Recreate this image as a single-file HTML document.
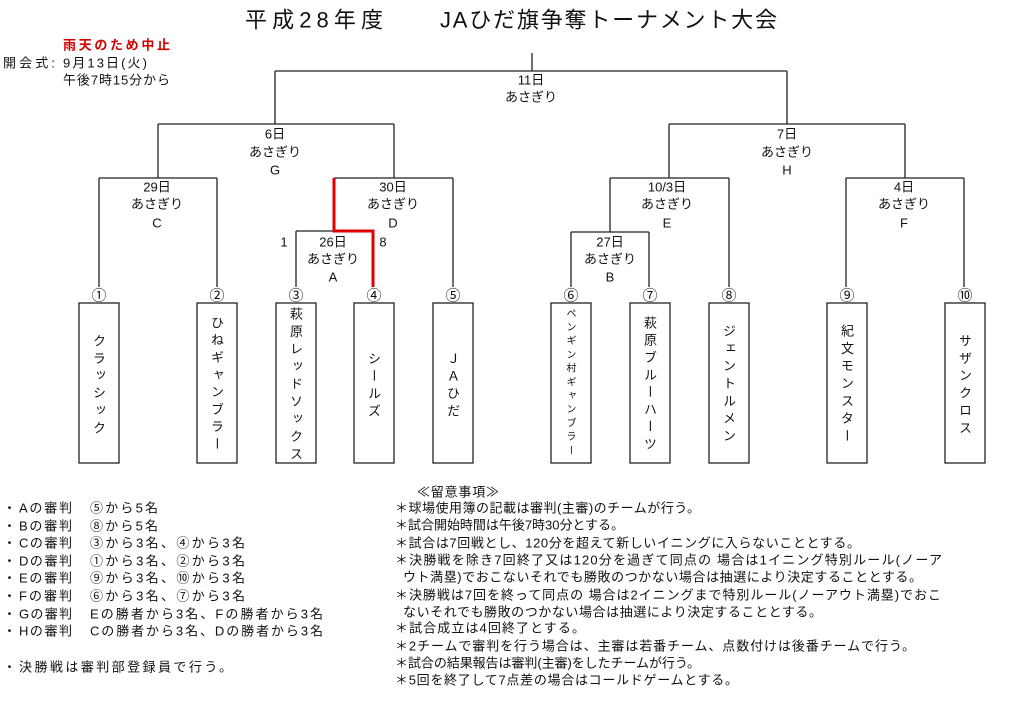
<!DOCTYPE html>
<html><head><meta charset="utf-8">
<style>
html,body{margin:0;padding:0;background:#fff;}
body{width:1024px;height:711px;position:relative;overflow:hidden;font-family:"Liberation Sans","Noto Sans CJK JP",sans-serif;color:#111;}
svg{position:absolute;left:0;top:0;}
.v{position:absolute;writing-mode:vertical-rl;width:20px;line-height:20px;font-family:"Noto Sans CJK JP","Liberation Sans",sans-serif;color:#111;white-space:nowrap;}
</style></head><body>
<svg width="1024" height="711" viewBox="0 0 1024 711" xmlns="http://www.w3.org/2000/svg" font-family="Liberation Sans, Noto Sans CJK JP, sans-serif" fill="#111">
<!-- title -->
<text x="245" y="20" font-size="22" dominant-baseline="central" textLength="138" lengthAdjust="spacing">平成28年度</text>
<text x="440" y="20" font-size="22" dominant-baseline="central" textLength="337" lengthAdjust="spacing">JAひだ旗争奪トーナメント大会</text>
<!-- top left -->
<text x="63" y="45" font-size="13" font-weight="bold" fill="#d40000" dominant-baseline="central" textLength="107" lengthAdjust="spacing">雨天のため中止</text>
<text x="3" y="63" font-size="13" dominant-baseline="central" textLength="52" lengthAdjust="spacing">開会式:</text>
<text x="63" y="63" font-size="13" dominant-baseline="central" textLength="84" lengthAdjust="spacing">9月13日(火)</text>
<text x="63" y="80" font-size="13" dominant-baseline="central" textLength="107" lengthAdjust="spacing">午後7時15分から</text>

<!-- bracket lines -->
<g stroke="#222" stroke-width="1.3" fill="none">
<path d="M532 53V71M275 71H787M275 71V124M787 71V124"/>
<path d="M158 124H394M158 124V178M394 124V178"/>
<path d="M99 178H217M99 178V287M217 178V287"/>
<path d="M334 178H453M453 178V287"/>
<path d="M296 231H334M296 231V287"/>
<path d="M669 124H905M669 124V178M905 124V178"/>
<path d="M610 178H729M729 178V287M610 178V232"/>
<path d="M571 232H649M571 232V287M649 232V287"/>
<path d="M846 178H964M846 178V287M964 178V287"/>
</g>
<path d="M334 178V231H373V287" stroke="#e00000" stroke-width="3" fill="none"/>

<!-- boxes -->
<g stroke="#222" stroke-width="1.3" fill="none">
<rect x="79" y="303" width="40" height="160"/>
<rect x="197" y="303" width="40" height="160"/>
<rect x="276" y="303" width="40" height="160"/>
<rect x="354" y="303" width="40" height="160"/>
<rect x="433" y="303" width="40" height="160"/>
<rect x="551" y="303" width="40" height="160"/>
<rect x="630" y="303" width="40" height="160"/>
<rect x="709" y="303" width="40" height="160"/>
<rect x="827" y="303" width="40" height="160"/>
<rect x="945" y="303" width="40" height="160"/>
</g>

<!-- circled numbers -->
<g font-size="15" text-anchor="middle" font-family="Noto Sans CJK JP, DejaVu Sans, sans-serif">
<text x="99" y="295" dominant-baseline="central">①</text>
<text x="217" y="295" dominant-baseline="central">②</text>
<text x="296" y="295" dominant-baseline="central">③</text>
<text x="374" y="295" dominant-baseline="central">④</text>
<text x="453" y="295" dominant-baseline="central">⑤</text>
<text x="571" y="295" dominant-baseline="central">⑥</text>
<text x="650" y="295" dominant-baseline="central">⑦</text>
<text x="729" y="295" dominant-baseline="central">⑧</text>
<text x="847" y="295" dominant-baseline="central">⑨</text>
<text x="965" y="295" dominant-baseline="central">⑩</text>
</g>

<!-- match labels -->
<g font-size="13" text-anchor="middle">
<text x="531" y="80" dominant-baseline="central">11日</text>
<text x="531" y="97" dominant-baseline="central">あさぎり</text>

<text x="275" y="134" dominant-baseline="central">6日</text>
<text x="275" y="152" dominant-baseline="central">あさぎり</text>
<text x="275" y="170" dominant-baseline="central">G</text>

<text x="787" y="134" dominant-baseline="central">7日</text>
<text x="787" y="152" dominant-baseline="central">あさぎり</text>
<text x="787" y="170" dominant-baseline="central">H</text>

<text x="157" y="187" dominant-baseline="central">29日</text>
<text x="157" y="204" dominant-baseline="central">あさぎり</text>
<text x="157" y="223" dominant-baseline="central">C</text>

<text x="393" y="187" dominant-baseline="central">30日</text>
<text x="393" y="204" dominant-baseline="central">あさぎり</text>
<text x="393" y="223" dominant-baseline="central">D</text>

<text x="333" y="242" dominant-baseline="central">26日</text>
<text x="333" y="259" dominant-baseline="central">あさぎり</text>
<text x="333" y="277" dominant-baseline="central">A</text>
<text x="284" y="242" dominant-baseline="central">1</text>
<text x="383" y="242" dominant-baseline="central">8</text>

<text x="667" y="187" dominant-baseline="central">10/3日</text>
<text x="667" y="204" dominant-baseline="central">あさぎり</text>
<text x="667" y="223" dominant-baseline="central">E</text>

<text x="904" y="187" dominant-baseline="central">4日</text>
<text x="904" y="204" dominant-baseline="central">あさぎり</text>
<text x="904" y="223" dominant-baseline="central">F</text>

<text x="610" y="242" dominant-baseline="central">27日</text>
<text x="610" y="259" dominant-baseline="central">あさぎり</text>
<text x="610" y="277" dominant-baseline="central">B</text>
</g>

<!-- left list -->
<g font-size="13">
<text x="3" y="508" dominant-baseline="central">・</text>
<text x="19" y="508" dominant-baseline="central" textLength="53" lengthAdjust="spacing">Aの審判</text>
<text x="90" y="508" dominant-baseline="central" textLength="68" lengthAdjust="spacing">⑤から5名</text>

<text x="3" y="526" dominant-baseline="central">・</text>
<text x="19" y="526" dominant-baseline="central" textLength="53" lengthAdjust="spacing">Bの審判</text>
<text x="90" y="526" dominant-baseline="central" textLength="68" lengthAdjust="spacing">⑧から5名</text>

<text x="3" y="543" dominant-baseline="central">・</text>
<text x="19" y="543" dominant-baseline="central" textLength="53" lengthAdjust="spacing">Cの審判</text>
<text x="90" y="543" dominant-baseline="central" textLength="155" lengthAdjust="spacing">③から3名、④から3名</text>

<text x="3" y="561" dominant-baseline="central">・</text>
<text x="19" y="561" dominant-baseline="central" textLength="53" lengthAdjust="spacing">Dの審判</text>
<text x="90" y="561" dominant-baseline="central" textLength="155" lengthAdjust="spacing">①から3名、②から3名</text>

<text x="3" y="578" dominant-baseline="central">・</text>
<text x="19" y="578" dominant-baseline="central" textLength="53" lengthAdjust="spacing">Eの審判</text>
<text x="90" y="578" dominant-baseline="central" textLength="155" lengthAdjust="spacing">⑨から3名、⑩から3名</text>

<text x="3" y="596" dominant-baseline="central">・</text>
<text x="19" y="596" dominant-baseline="central" textLength="53" lengthAdjust="spacing">Fの審判</text>
<text x="90" y="596" dominant-baseline="central" textLength="155" lengthAdjust="spacing">⑥から3名、⑦から3名</text>

<text x="3" y="614" dominant-baseline="central">・</text>
<text x="19" y="614" dominant-baseline="central" textLength="53" lengthAdjust="spacing">Gの審判</text>
<text x="90" y="614" dominant-baseline="central" textLength="233" lengthAdjust="spacing">Eの勝者から3名、Fの勝者から3名</text>

<text x="3" y="631" dominant-baseline="central">・</text>
<text x="19" y="631" dominant-baseline="central" textLength="53" lengthAdjust="spacing">Hの審判</text>
<text x="90" y="631" dominant-baseline="central" textLength="233" lengthAdjust="spacing">Cの勝者から3名、Dの勝者から3名</text>

<text x="3" y="667" dominant-baseline="central">・</text>
<text x="19" y="667" dominant-baseline="central" textLength="213" lengthAdjust="spacing">決勝戦は審判部登録員で行う。</text>
</g>

<!-- right notes -->
<g font-size="13">
<text x="417" y="492" dominant-baseline="central" textLength="82" lengthAdjust="spacing">≪留意事項≫</text>
<text x="395" y="508" dominant-baseline="central" textLength="305" lengthAdjust="spacing">＊球場使用簿の記載は審判(主審)のチームが行う。</text>
<text x="395" y="525" dominant-baseline="central" textLength="229" lengthAdjust="spacing">＊試合開始時間は午後7時30分とする。</text>
<text x="395" y="543" dominant-baseline="central" textLength="465" lengthAdjust="spacing">＊試合は7回戦とし、120分を超えて新しいイニングに入らないこととする。</text>
<text x="395" y="560" dominant-baseline="central" textLength="547" lengthAdjust="spacing">＊決勝戦を除き7回終了又は120分を過ぎて同点の 場合は1イニング特別ルール(ノーア</text>
<text x="403" y="577" dominant-baseline="central" textLength="519" lengthAdjust="spacing">ウト満塁)でおこないそれでも勝敗のつかない場合は抽選により決定することとする。</text>
<text x="395" y="595" dominant-baseline="central" textLength="546" lengthAdjust="spacing">＊決勝戦は7回を終って同点の 場合は2イニングまで特別ルール(ノーアウト満塁)でおこ</text>
<text x="403" y="612" dominant-baseline="central" textLength="419" lengthAdjust="spacing">ないそれでも勝敗のつかない場合は抽選により決定することとする。</text>
<text x="395" y="628" dominant-baseline="central" textLength="190" lengthAdjust="spacing">＊試合成立は4回終了とする。</text>
<text x="395" y="646" dominant-baseline="central" textLength="520" lengthAdjust="spacing">＊2チームで審判を行う場合は、主審は若番チーム、点数付けは後番チームで行う。</text>
<text x="395" y="663" dominant-baseline="central" textLength="305" lengthAdjust="spacing">＊試合の結果報告は審判(主審)をしたチームが行う。</text>
<text x="395" y="680" dominant-baseline="central" textLength="343" lengthAdjust="spacing">＊5回を終了して7点差の場合はコールドゲームとする。</text>
</g>
</svg>

<!-- vertical team names -->
<div class="v" style="left:89px;top:333.5px;font-size:13px;letter-spacing:4.4px;">クラッシック</div>
<div class="v" style="left:207px;top:315.5px;font-size:13px;letter-spacing:4.3px;">ひねギャンブラー</div>
<div class="v" style="left:286px;top:306.5px;font-size:13px;letter-spacing:4.5px;">萩原レッドソックス</div>
<div class="v" style="left:364px;top:351.5px;font-size:13px;letter-spacing:4.3px;">シールズ</div>
<div class="v" style="left:443px;top:351.5px;font-size:13px;letter-spacing:4.3px;">ＪＡひだ</div>
<div class="v" style="left:561px;top:308px;font-size:10px;letter-spacing:3.7px;">ペンギン村ギャンブラー</div>
<div class="v" style="left:640px;top:315.5px;font-size:13px;letter-spacing:4.3px;">萩原ブルーハーツ</div>
<div class="v" style="left:719px;top:323.5px;font-size:13px;letter-spacing:4.5px;">ジェントルメン</div>
<div class="v" style="left:837px;top:323.5px;font-size:13px;letter-spacing:4.5px;">紀文モンスター</div>
<div class="v" style="left:955px;top:333.5px;font-size:13px;letter-spacing:4.4px;">サザンクロス</div>
</body></html>
